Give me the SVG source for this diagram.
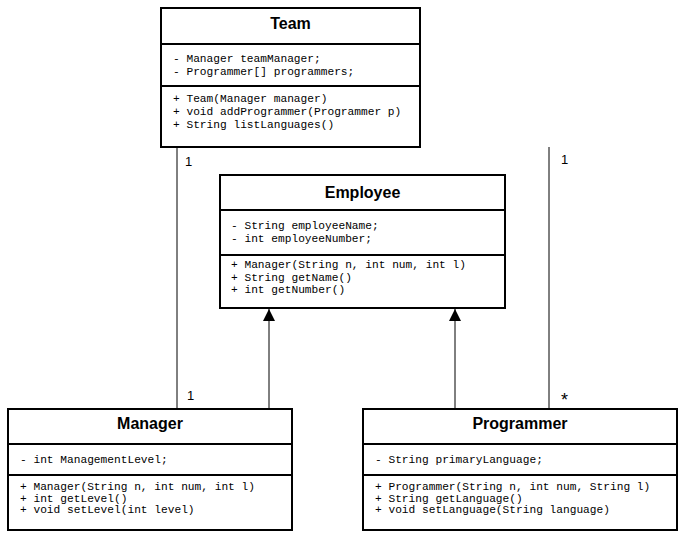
<svg xmlns="http://www.w3.org/2000/svg" width="684" height="537" viewBox="0 0 684 537">
<style>
.box{fill:#fff;stroke:#000;stroke-width:2}
.sep{stroke:#000;stroke-width:2}
.title{font-family:"Liberation Sans",Arial,sans-serif;font-weight:bold;font-size:16px;text-anchor:middle}
.m{font-family:"Liberation Mono","Courier New",monospace;font-size:11.2px}
.lbl{font-family:"Liberation Sans",Arial,sans-serif;font-size:13px}
.ln{stroke:#000;stroke-width:1;fill:none}
</style>
<defs>
<marker id="tri" markerWidth="14" markerHeight="14" refX="12" refY="6" orient="auto" markerUnits="userSpaceOnUse">
<path d="M0,0 L12,6 L0,12 z" fill="#000"/>
</marker>
</defs>
<rect width="684" height="537" fill="#fff"/>
<g id="connectors">
<line class="ln" x1="177" y1="147" x2="177" y2="409"/>
<line class="ln" x1="549" y1="147" x2="549" y2="409"/>
<line class="ln" x1="269" y1="409" x2="269" y2="309" marker-end="url(#tri)"/>
<line class="ln" x1="455" y1="409" x2="455" y2="309" marker-end="url(#tri)"/>
<text class="lbl" x="185" y="166">1</text>
<text class="lbl" x="187" y="400">1</text>
<text class="lbl" x="561" y="164">1</text>
<text class="lbl" x="561" y="406" style="font-size:18px">*</text>
</g>
<g id="Team">
<rect class="box" x="161" y="8" width="259" height="139"/>
<line class="sep" x1="161" y1="44" x2="420" y2="44"/>
<line class="sep" x1="161" y1="86" x2="420" y2="86"/>
<text class="title" x="290.5" y="29">Team</text>
<text class="m" x="173" y="62" xml:space="preserve">- Manager teamManager;</text>
<text class="m" x="173" y="75" xml:space="preserve">- Programmer[] programmers;</text>
<text class="m" x="173" y="102" xml:space="preserve">+ Team(Manager manager)</text>
<text class="m" x="173" y="115" xml:space="preserve">+ void addProgrammer(Programmer p)</text>
<text class="m" x="173" y="128" xml:space="preserve">+ String listLanguages()</text>
</g>
<g id="Employee">
<rect class="box" x="220" y="175" width="285" height="133"/>
<line class="sep" x1="220" y1="210" x2="505" y2="210"/>
<line class="sep" x1="220" y1="255" x2="505" y2="255"/>
<text class="title" x="362.5" y="198">Employee</text>
<text class="m" x="231" y="229" xml:space="preserve">- String employeeName;</text>
<text class="m" x="231" y="242" xml:space="preserve">- int employeeNumber;</text>
<text class="m" x="231" y="268" xml:space="preserve">+ Manager(String n, int num, int l)</text>
<text class="m" x="231" y="280.5" xml:space="preserve">+ String getName()</text>
<text class="m" x="231" y="293" xml:space="preserve">+ int getNumber()</text>
</g>
<g id="Manager">
<rect class="box" x="8" y="409" width="284" height="121"/>
<line class="sep" x1="8" y1="444" x2="292" y2="444"/>
<line class="sep" x1="8" y1="475" x2="292" y2="475"/>
<text class="title" x="150" y="429">Manager</text>
<text class="m" x="20" y="463" xml:space="preserve">- int ManagementLevel;</text>
<text class="m" x="20" y="490" xml:space="preserve">+ Manager(String n, int num, int l)</text>
<text class="m" x="20" y="501.5" xml:space="preserve">+ int getLevel()</text>
<text class="m" x="20" y="513" xml:space="preserve">+ void setLevel(int level)</text>
</g>
<g id="Programmer">
<rect class="box" x="363" y="409" width="314" height="121"/>
<line class="sep" x1="363" y1="444" x2="677" y2="444"/>
<line class="sep" x1="363" y1="475" x2="677" y2="475"/>
<text class="title" x="520" y="429">Programmer</text>
<text class="m" x="375" y="463" xml:space="preserve">- String primaryLanguage;</text>
<text class="m" x="375" y="490" xml:space="preserve">+ Programmer(String n, int num, String l)</text>
<text class="m" x="375" y="501.5" xml:space="preserve">+ String getLanguage()</text>
<text class="m" x="375" y="513" xml:space="preserve">+ void setLanguage(String language)</text>
</g>
</svg>
